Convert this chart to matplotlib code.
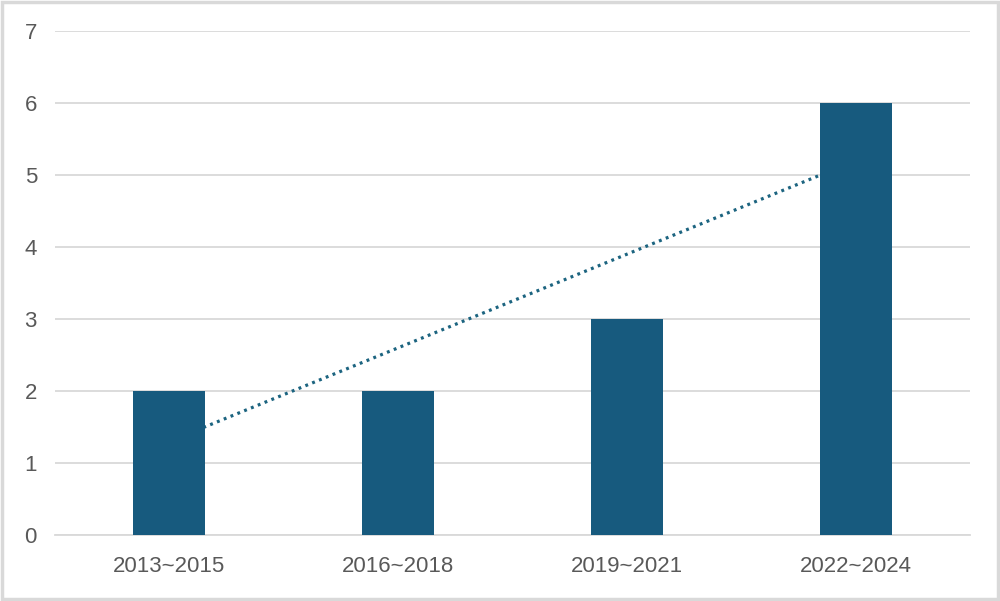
import matplotlib
matplotlib.use("Agg")
import matplotlib.pyplot as plt
import numpy as np
from matplotlib.patches import Rectangle

# --- data ---------------------------------------------------------------------
periods = ["2013~2015", "2016~2018", "2019~2021", "2022~2024"]
counts = [2, 2, 3, 6]
y_ticks = [0, 1, 2, 3, 4, 5, 6, 7]

bar_color = "#175a7e"
trend_color = "#1c6480"
grid_color = "#d9d9d9"
text_color = "#595959"

plt.rcParams["font.family"] = "Liberation Sans"

# --- chart --------------------------------------------------------------------
fig = plt.figure(figsize=(10, 6.01), dpi=100)
ax = fig.add_axes([0.055, 0.1098, 0.915, 0.8386])

x = np.arange(len(periods))
ax.bar(x, counts, width=0.315, color=bar_color, zorder=3)

# linear trendline (Excel style), drawn behind the bars
slope, intercept = np.polyfit(x, counts, 1)
ax.plot(x, slope * x + intercept, color=trend_color, lw=2.3,
        linestyle=(0, (0.9, 1.4)), zorder=2)

ax.set_xlim(-0.5, len(periods) - 0.5)
ax.set_ylim(0, 7)
ax.set_yticks(y_ticks)
ax.set_xticks(x)
ax.set_xticklabels(periods)

ax.grid(axis="y", color=grid_color, lw=1.3, zorder=0)
ax.set_axisbelow(True)
for side in ["top", "right", "left"]:
    ax.spines[side].set_visible(False)
ax.spines["bottom"].set_color(grid_color)
ax.spines["bottom"].set_linewidth(1.3)

ax.tick_params(axis="both", length=0, labelsize=16, labelcolor=text_color)
ax.tick_params(axis="y", pad=13)
ax.tick_params(axis="x", pad=15)

# light frame around the whole chart
fig.patches.append(Rectangle((0.002, 0.003), 0.996, 0.994, transform=fig.transFigure,
                             fill=False, edgecolor=grid_color, lw=2.5))

fig.savefig("out.png", dpi=100)
